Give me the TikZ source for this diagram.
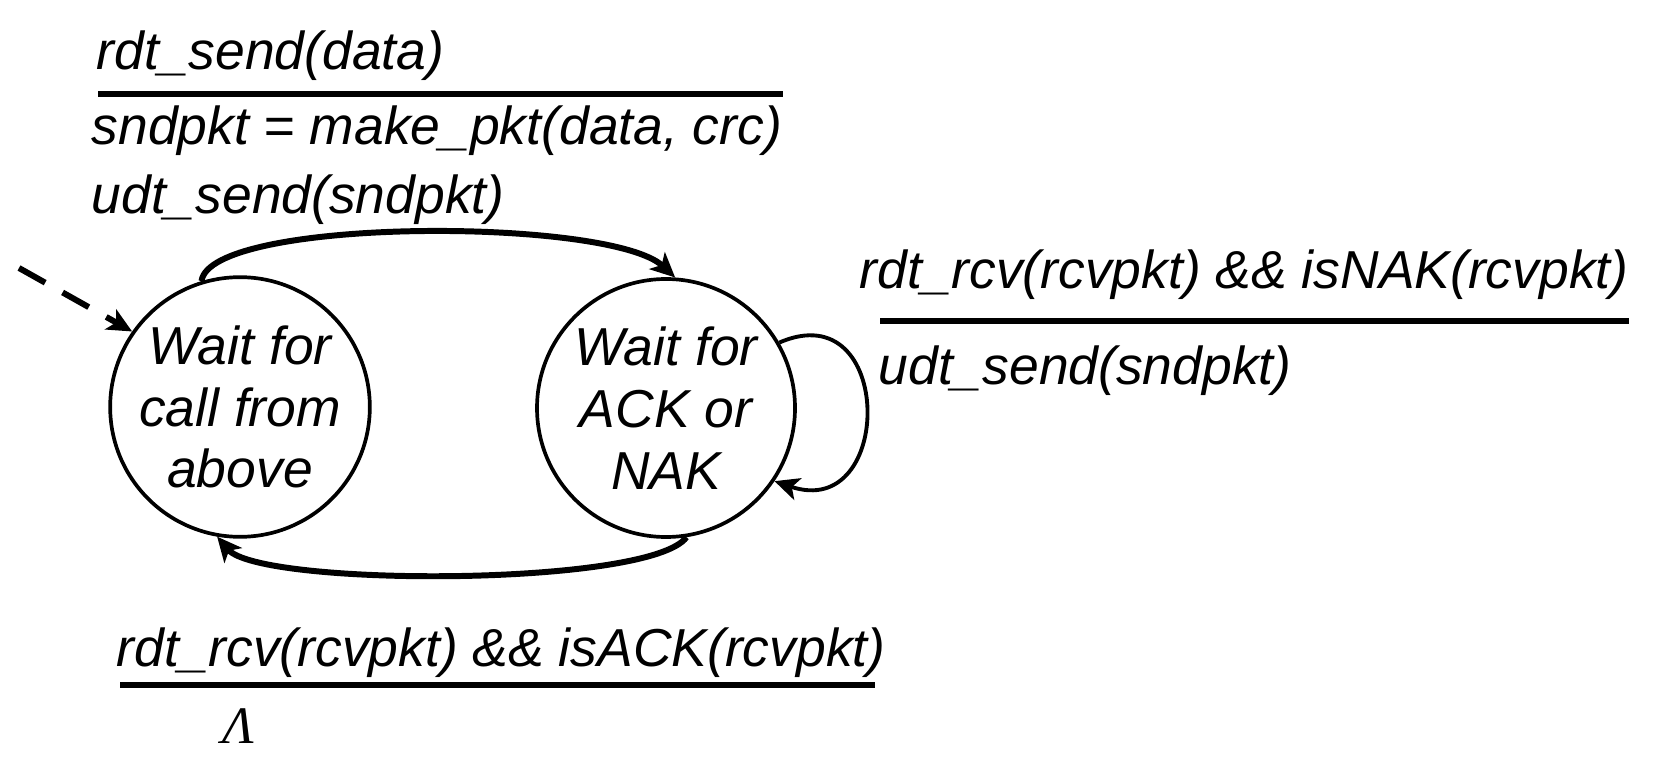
\documentclass[tikz,border=0pt]{standalone}
\usepackage{fontspec}
\setmainfont{Liberation Sans}
\newfontfamily\lamfont{Liberation Serif}
\usepackage{tikz}
\usetikzlibrary{shapes,arrows,arrows.meta,positioning}

\begin{document}
\begin{tikzpicture}[
    every node/.style={font=\fontsize{15.2}{17.6}\selectfont\itshape},
    state/.style={draw, circle, line width=1.05pt, minimum size=2.58cm, inner sep=0pt, align=center},
    lbl/.style={anchor=base west, inner sep=0pt},
    bar/.style={line width=1.7pt},
    arr/.style={-{Stealth[length=7pt, width=6.5pt, inset=1.8pt]}, line width=1.7pt},
    selfarr/.style={-{Stealth[length=7pt, width=6.5pt, inset=1.8pt]}, line width=1.1pt},
    initarr/.style={-{Stealth[length=7pt, width=6.5pt, inset=1.8pt]}, line width=1.7pt, dash pattern=on 0.30cm off 0.20cm}
]
\useasboundingbox (0,0) rectangle (16.78,7.62);

% States
\node[state] (wcall) at (2.40, 3.55) {Wait for\\call from\\above};
\node[state] (wack)  at (6.66, 3.54) {Wait for\\ACK or\\NAK};

% Initial arrow
\coordinate (init) at (0.19, 4.94);
\draw[initarr] (init) -- (wcall.145);

% Top transition
\node[lbl] (send1) at (0.96, 6.92) {rdt\_send(data)};
\coordinate (sendL) at (0.98, 6.68);
\coordinate (sendR) at (7.83, 6.68);
\draw[bar] (sendL) -- (sendR);
\node[lbl] (send2) at (0.91, 6.17) {sndpkt = make\_pkt(data, crc)};
\node[lbl] (send3) at (0.91, 5.48) {udt\_send(sndpkt)};

\draw[arr] (wcall.107) .. controls (2.10, 5.45) and (6.10, 5.45) .. (wack.86);

% Self loop (NAK)
\node[lbl] (nak1) at (8.59, 4.73) {rdt\_rcv(rcvpkt) \&\& isNAK(rcvpkt)};
\coordinate (nakL) at (8.80, 4.41);
\coordinate (nakR) at (16.29, 4.41);
\draw[bar] (nakL) -- (nakR);
\node[lbl] (nak2) at (8.78, 3.77) {udt\_send(sndpkt)};

\draw[selfarr] (wack.30) .. controls (8.95, 4.70) and (8.95, 2.40) .. (wack.-34);

% Bottom transition (ACK)
\draw[arr] (wack.-81) .. controls (6.50, 1.75) and (2.60, 1.75) .. (wcall.-100);

\node[lbl] (ack1) at (1.16, 0.96) {rdt\_rcv(rcvpkt) \&\& isACK(rcvpkt)};
\coordinate (ackL) at (1.20, 0.77);
\coordinate (ackR) at (8.75, 0.77);
\draw[bar] (ackL) -- (ackR);
\node[lbl, font=\fontsize{15}{17}\lamfont\itshape] (ack2) at (2.22, 0.19) {Λ};

\end{tikzpicture}
\end{document}
